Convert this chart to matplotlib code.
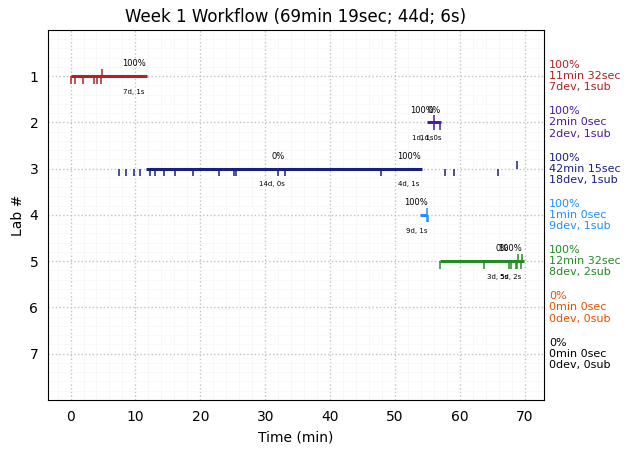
import matplotlib
matplotlib.use("Agg")
import matplotlib.pyplot as plt
from matplotlib.ticker import MultipleLocator

labs = [1, 2, 3, 4, 5, 6, 7]
colors = ["firebrick", "#4b1a9e", "#191f80", "dodgerblue", "forestgreen", "#e65100", "black"]
summaries = ["100%\n11min 32sec\n7dev, 1sub",
             "100%\n2min 0sec\n2dev, 1sub",
             "100%\n42min 15sec\n18dev, 1sub",
             "100%\n1min 0sec\n9dev, 1sub",
             "100%\n12min 32sec\n8dev, 2sub",
             "0%\n0min 0sec\n0dev, 0sub",
             "0%\n0min 0sec\n0dev, 0sub"]

# start and end of work per lab
starts = [0.0, 54.9, 11.6, 53.9, 56.9]
ends = [11.75, 57.1, 54.15, 55.0, 69.95]

# small ticks under the line (dev) and over the line (submit)
dev_times = [[0.1, 0.75, 1.97, 3.67, 4.13, 4.75],
             [56.05, 57.0],
             [7.5, 8.6, 9.83, 10.75, 12.3, 13.07, 14.45, 16.15, 18.9, 22.9, 25.25, 25.45,
              32.0, 33.1, 47.9, 57.75, 59.1, 65.9],
             [54.9, 55.05],
             [57.0, 63.75, 67.6, 67.9, 68.65, 68.8, 69.45]]
sub_times = [[4.9], [56.05], [68.85], [55.0], [69.0, 69.6]]

# annotations: lab, x, percent, time
pct_labs = [1, 2, 2, 3, 3, 4, 5, 5]
pct_x = [9.8, 54.15, 56.0, 32.0, 52.1, 53.2, 66.5, 67.75]
pct_text = ["100%", "100%", "0%", "0%", "100%", "100%", "0%", "100%"]
dur_x = [9.8, 54.3, 55.5, 31.1, 52.1, 53.3, 65.8, 67.8]
dur_text = ["7d, 1s", "1d, 1s", "1d, 0s", "14d, 0s", "4d, 1s", "9d, 1s", "3d, 5s", "5d, 2s"]

fig, ax = plt.subplots(figsize=(6.3, 4.53), dpi=100)
fig.subplots_adjust(left=0.0762, right=0.8635, top=0.9338, bottom=0.117)

for i in range(5):
    ax.plot([starts[i], ends[i]], [labs[i], labs[i]], color=colors[i], lw=2.2, solid_capstyle="butt", zorder=3)
    ax.vlines(dev_times[i], labs[i], labs[i] + 0.16, color=colors[i], lw=1.1, zorder=3)
    ax.vlines(sub_times[i], labs[i] - 0.16, labs[i], color=colors[i], lw=1.1, zorder=3)

for i in range(len(pct_labs)):
    ax.text(pct_x[i], pct_labs[i] - 0.27, pct_text[i], fontsize=6, ha="center", va="center")
    ax.text(dur_x[i], pct_labs[i] + 0.34, dur_text[i], fontsize=5, ha="center", va="center")

for i in range(len(labs)):
    ax.text(1.01, labs[i], summaries[i], color=colors[i], fontsize=8, ha="left", va="center",
            transform=ax.get_yaxis_transform(), linespacing=1.13)

ax.set_xlim(-3.47, 72.96)
ax.set_ylim(8, 0)
ax.set_yticks(labs)
ax.xaxis.set_major_locator(MultipleLocator(10))
ax.xaxis.set_minor_locator(MultipleLocator(2))
ax.yaxis.set_minor_locator(MultipleLocator(0.2))
ax.grid(True, which="major", color="#c2c2c2", ls=":", lw=1)
ax.grid(True, which="minor", color="#f7f7f7", ls="-", lw=0.6)
ax.set_axisbelow(True)
ax.tick_params(which="minor", length=0)
ax.tick_params(which="major", axis="y", length=0, labelsize=10, pad=7)
ax.tick_params(which="major", axis="x", length=0, labelsize=10, pad=7)
ax.set_xlabel("Time (min)", labelpad=5)
ax.set_ylabel("Lab #", labelpad=3)
ax.set_title("Week 1 Workflow (69min 19sec; 44d; 6s)")

fig.savefig("out.png", dpi=100)
